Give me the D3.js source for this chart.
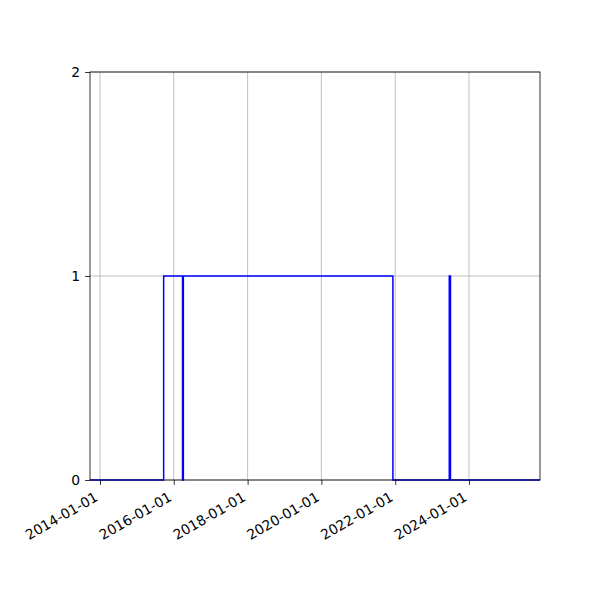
<!DOCTYPE html>
<html>
<head>
<meta charset="utf-8">
<script src="https://cdn.jsdelivr.net/npm/d3@7"></script>
<style>
  body { margin: 0; background: #fff; }
  text { font-family: "DejaVu Sans", sans-serif; font-size: 13.9px; fill: #000; }
</style>
</head>
<body>
<script>
// step series: state switches on these dates
const dates = ['2013-09-24', '2015-09-23', '2016-03-28', '2016-04-05', '2021-12-09',
               '2023-06-20', '2023-07-02', '2025-12-04'];
const values = [0, 1, 0, 1, 0, 1, 0, 0];
const xTicks = ['2014-01-01', '2016-01-01', '2018-01-01', '2020-01-01', '2022-01-01', '2024-01-01'];
const yTicks = [0, 1, 2];

const WIDTH = 600;
const HEIGHT = 600;
const LEFT = 90, RIGHT = 540, TOP = 72, BOTTOM = 480;

const parse = d3.utcParse('%Y-%m-%d');
const series = dates.map((d, i) => ({ t: parse(d), v: values[i] }));

let xScale =
  d3.scaleUtc()
    .domain([parse('2013-09-24'), parse('2025-12-04')])
    .range([LEFT, RIGHT]);

let yScale =
  d3.scaleLinear()
    .domain([0, 2])
    .range([BOTTOM, TOP]);

let svg =
  d3.select('body')
    .append('svg')
    .attr('width', WIDTH)
    .attr('height', HEIGHT);

// grid
svg.append('g')
   .selectAll('line')
   .data(xTicks)
   .enter()
   .append('line')
   .attr('x1', (d) => xScale(parse(d)))
   .attr('x2', (d) => xScale(parse(d)))
   .attr('y1', TOP)
   .attr('y2', BOTTOM)
   .attr('stroke', '#b0b0b0')
   .attr('stroke-width', 0.8);

svg.append('g')
   .selectAll('line')
   .data(yTicks)
   .enter()
   .append('line')
   .attr('x1', LEFT)
   .attr('x2', RIGHT)
   .attr('y1', (d) => yScale(d))
   .attr('y2', (d) => yScale(d))
   .attr('stroke', '#b0b0b0')
   .attr('stroke-width', 0.8);

// the step line
let line =
  d3.line()
    .x((d) => xScale(d.t))
    .y((d) => yScale(d.v))
    .curve(d3.curveStepAfter);

svg.append('path')
   .datum(series)
   .attr('d', line)
   .attr('fill', 'none')
   .attr('stroke', '#0000ff')
   .attr('stroke-width', 1.5);

// axes
let xAxis = svg.append('g')
  .attr('transform', `translate(0,${BOTTOM})`)
  .call(d3.axisBottom(xScale)
    .tickValues(xTicks.map(parse))
    .tickFormat(d3.utcFormat('%Y-%m-%d'))
    .tickSize(4.9)
    .tickPadding(4.9));

xAxis.select('.domain').remove();
xAxis.selectAll('.tick line').attr('stroke', '#000').attr('stroke-width', 0.8);
xAxis.selectAll('.tick text')
     .attr('font-size', null)
     .attr('y', null)
     .attr('dy', null)
     .attr('text-anchor', 'end')
     .attr('transform', 'translate(0,22.5) rotate(-30)')
     .attr('dy', '-0.22em');

let yAxis = svg.append('g')
  .attr('transform', `translate(${LEFT},0)`)
  .call(d3.axisLeft(yScale)
    .tickValues(yTicks)
    .tickFormat(d3.format('d'))
    .tickSize(4.9)
    .tickPadding(4.9));

yAxis.select('.domain').remove();
yAxis.selectAll('.tick line').attr('stroke', '#000').attr('stroke-width', 0.8);
yAxis.selectAll('.tick text').attr('font-size', null);
svg.selectAll('.tick text').attr('font-family', null);

// frame
svg.append('rect')
   .attr('x', LEFT)
   .attr('y', TOP)
   .attr('width', RIGHT - LEFT)
   .attr('height', BOTTOM - TOP)
   .attr('fill', 'none')
   .attr('stroke', '#000')
   .attr('stroke-width', 0.8);
</script>
</body>
</html>
